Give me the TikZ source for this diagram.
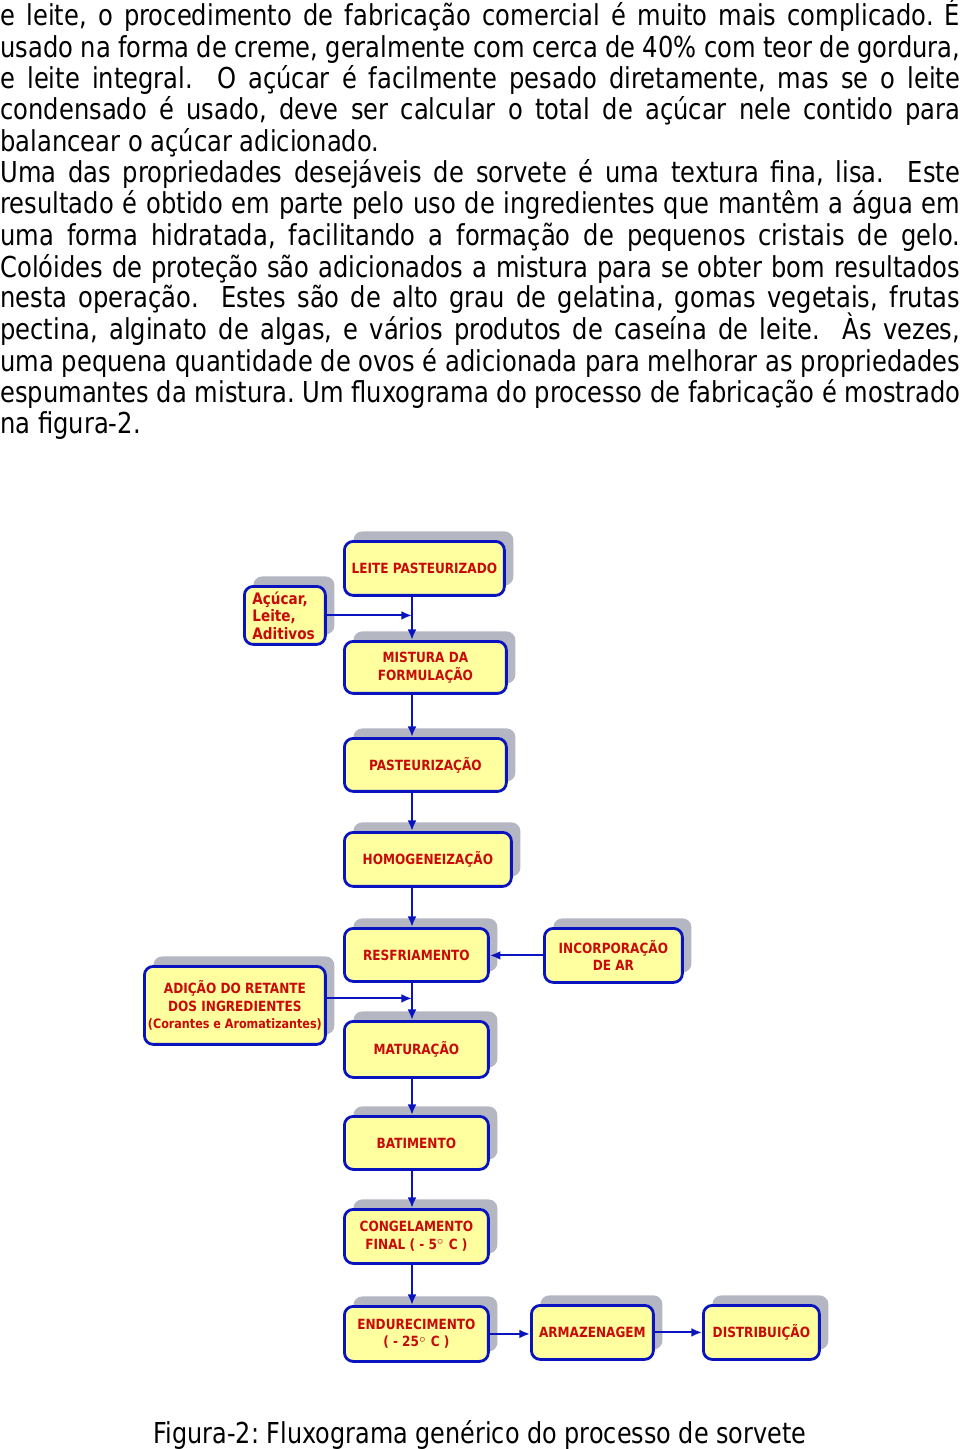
\documentclass[tikz,border=0pt]{standalone}
\usepackage{fontspec}
\setmainfont{DejaVu Sans}[FakeStretch=0.84]
\newfontfamily\legendafont{DejaVu Sans}[FakeStretch=0.83]
\newfontfamily\etapafont{DejaVu Sans}[FakeStretch=0.86]
\usepackage{tikz}
\usetikzlibrary{arrows,arrows.meta,positioning,calc,shadows}
\definecolor{azul}{RGB}{10,20,190}
\definecolor{amarelo}{RGB}{255,255,160}
\definecolor{sombra}{RGB}{180,182,194}
\definecolor{vermelho}{RGB}{200,10,10}
\tikzstyle{etapa}=[draw=azul,line width=1.6pt,fill=amarelo,rounded corners=5pt,anchor=north west,inner sep=2pt,align=center,text=vermelho,font=\etapafont\bfseries\fontsize{8}{10}\selectfont,drop shadow={shadow xshift=0.18cm,shadow yshift=0.2cm,fill=sombra,opacity=1}]
\tikzstyle{fluxo}=[draw=azul,line width=1.2pt,-{Latex[length=6pt,width=5pt]}]
\tikzstyle{linha}=[anchor=base west,inner sep=0pt,font=\fontsize{16.4}{20}\selectfont]
\frenchspacing

\begin{document}
\begin{tikzpicture}[x=0.02cm,y=-0.02cm]
\useasboundingbox (0,0) rectangle (960,1449);
\node[linha] (l1) at (0,26) {\makebox[19.2cm][s]{e leite, o procedimento de fabricação comercial é muito mais complicado. É}};
\node[linha] (l2) at (0,57.5) {\makebox[19.2cm][s]{usado na forma de creme, geralmente com cerca de 40\% com teor de gordura,}};
\node[linha] (l3) at (0,89) {\makebox[19.2cm][s]{e leite integral.\ \ O açúcar é facilmente pesado diretamente, mas se o leite}};
\node[linha] (l4) at (0,120) {\makebox[19.2cm][s]{condensado é usado, deve ser calcular o total de açúcar nele contido para}};
\node[linha] (l5) at (0,151.5) {balancear o açúcar adicionado.};
\node[linha] (l6) at (0,183) {\makebox[19.2cm][s]{Uma das propriedades desejáveis de sorvete é uma textura fina, lisa.\ \ Este}};
\node[linha] (l7) at (0,214) {\makebox[19.2cm][s]{resultado é obtido em parte pelo uso de ingredientes que mantêm a água em}};
\node[linha] (l8) at (0,245.5) {\makebox[19.2cm][s]{uma forma hidratada, facilitando a formação de pequenos cristais de gelo.}};
\node[linha] (l9) at (0,277) {\makebox[19.2cm][s]{Colóides de proteção são adicionados a mistura para se obter bom resultados}};
\node[linha] (l10) at (0,308) {\makebox[19.2cm][s]{nesta operação.\ \ Estes são de alto grau de gelatina, gomas vegetais, frutas}};
\node[linha] (l11) at (0,339.5) {\makebox[19.2cm][s]{pectina, alginato de algas, e vários produtos de caseína de leite.\ \ Às vezes,}};
\node[linha] (l12) at (0,371) {\makebox[19.2cm][s]{uma pequena quantidade de ovos é adicionada para melhorar as propriedades}};
\node[linha] (l13) at (0,402) {\makebox[19.2cm][s]{espumantes da mistura. Um fluxograma do processo de fabricação é mostrado}};
\node[linha] (l14) at (0,433.5) {na figura-2.};

\coordinate (eixo) at (412,0);
\node[etapa,minimum width=3.2cm,minimum height=1.08cm] (leite) at (343,540) {LEITE PASTEURIZADO};
\node[etapa,minimum width=1.62cm,minimum height=1.16cm,align=left,text width=1.3cm,font=\etapafont\bfseries\fontsize{9}{10}\selectfont] (acucar) at (243,585) {Açúcar,\\Leite,\\Aditivos};
\node[etapa,minimum width=3.24cm,minimum height=1.04cm] (mistura) at (343,640) {MISTURA DA\\FORMULAÇÃO};
\node[etapa,minimum width=3.24cm,minimum height=1.06cm] (pasteur) at (343,737) {PASTEURIZAÇÃO};
\node[etapa,minimum width=3.34cm,minimum height=1.08cm] (homog) at (343,831) {HOMOGENEIZAÇÃO};
\node[etapa,minimum width=2.88cm,minimum height=1.06cm] (resfr) at (343,927) {RESFRIAMENTO};
\node[etapa,minimum width=2.76cm,minimum height=1.08cm] (incorp) at (543,927) {INCORPORAÇÃO\\DE AR};
\node[etapa,minimum width=3.62cm,minimum height=1.56cm] (adicao) at (143,965) {ADIÇÃO DO RETANTE\\DOS INGREDIENTES\\{\fontsize{7.4}{10}\selectfont(Corantes e Aromatizantes)}};
\node[etapa,minimum width=2.88cm,minimum height=1.12cm] (matur) at (343,1020) {MATURAÇÃO};
\node[etapa,minimum width=2.88cm,minimum height=1.06cm] (batim) at (343,1115) {BATIMENTO};
\node[etapa,minimum width=2.88cm,minimum height=1.08cm] (congel) at (343,1208) {CONGELAMENTO\\FINAL ( - 5$^{\circ}$ C )};
\node[etapa,minimum width=2.88cm,minimum height=1.1cm] (endur) at (343,1305) {ENDURECIMENTO\\( - 25$^{\circ}$ C )};
\node[etapa,minimum width=2.44cm,minimum height=1.08cm] (armaz) at (530,1304) {ARMAZENAGEM};
\node[etapa,minimum width=2.32cm,minimum height=1.08cm] (distrib) at (702,1304) {DISTRIBUIÇÃO};

\draw[fluxo] (leite.south -| eixo) -- (mistura.north -| eixo);
\draw[fluxo] (acucar.east) -- (acucar.east -| eixo);
\draw[fluxo] (mistura.south -| eixo) -- (pasteur.north -| eixo);
\draw[fluxo] (pasteur.south -| eixo) -- (homog.north -| eixo);
\draw[fluxo] (homog.south -| eixo) -- (resfr.north -| eixo);
\draw[fluxo] (incorp.west) -- (incorp.west -| resfr.east);
\draw[fluxo] (resfr.south -| eixo) -- (matur.north -| eixo);
\draw[fluxo] ([yshift=0.14cm]adicao.east) -- ([yshift=0.14cm]adicao.east -| eixo);
\draw[fluxo] (matur.south -| eixo) -- (batim.north -| eixo);
\draw[fluxo] (batim.south -| eixo) -- (congel.north -| eixo);
\draw[fluxo] (congel.south -| eixo) -- (endur.north -| eixo);
\draw[fluxo] (endur.east) -- (endur.east -| armaz.west);
\draw[fluxo] (armaz.east) -- (armaz.east -| distrib.west);

\node[anchor=base,inner sep=0pt,font=\legendafont\fontsize{16.4}{20}\selectfont] (legenda) at (480,1443) {Figura-2: Fluxograma genérico do processo de sorvete};
\end{tikzpicture}
\end{document}
